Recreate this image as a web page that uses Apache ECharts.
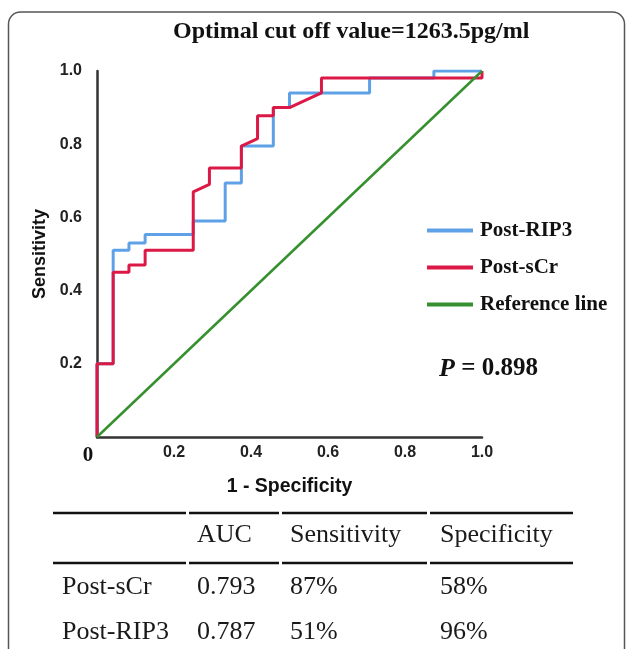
<!DOCTYPE html>
<html lang="en">
<head>
    <meta charset="UTF-8">
    <title>ROC</title>
    <style>
        html, body { margin: 0; padding: 0; background: #fff; }
        #main { width: 630px; height: 649px; }
    </style>
</head>
<body>
<div id="main"></div>
<script src="https://cdn.jsdelivr.net/npm/echarts@6/dist/echarts.min.js"></script>
<script>
    // ROC curves (1 - specificity, sensitivity)
    var rip3X = [0, 0, 0.042, 0.042, 0.083, 0.083, 0.125, 0.125, 0.25, 0.25, 0.333, 0.333, 0.375, 0.375, 0.458, 0.458, 0.5, 0.5, 0.708, 0.708, 0.875, 0.875, 1];
    var rip3Y = [0, 0.2, 0.2, 0.51, 0.51, 0.53, 0.53, 0.553, 0.553, 0.59, 0.59, 0.694, 0.694, 0.795, 0.795, 0.9, 0.9, 0.94, 0.94, 0.981, 0.981, 1, 1];
    var scrX = [0, 0, 0.042, 0.042, 0.083, 0.083, 0.125, 0.125, 0.25, 0.25, 0.292, 0.292, 0.375, 0.375, 0.417, 0.417, 0.458, 0.458, 0.5, 0.583, 0.583, 1, 1];
    var scrY = [0, 0.2, 0.2, 0.45, 0.45, 0.47, 0.47, 0.51, 0.51, 0.67, 0.69, 0.735, 0.735, 0.795, 0.815, 0.878, 0.878, 0.9, 0.9, 0.94, 0.981, 0.981, 1];
    var refX = [0, 1];
    var refY = [0, 1];

    var seriesNames = ['Post-RIP3', 'Post-sCr', 'Reference line'];
    var tableHeader = ['', 'AUC', 'Sensitivity', 'Specificity'];
    var tableRows = [
        ['Post-sCr', '0.793', '87%', '58%'],
        ['Post-RIP3', '0.787', '51%', '96%']
    ];
    var pText = '0.898';

    function pairs(xs, ys) {
        var out = [];
        for (var i = 0; i < xs.length; i++) out.push([xs[i], ys[i]]);
        return out;
    }

    var serif = '"Liberation Serif", "Times New Roman", serif';
    var sans = '"Liberation Sans", Arial, sans-serif';

    // table drawn as graphic elements
    var colX = [62, 197, 290, 440];
    var rowY = [535, 587, 632];
    var segs = [[53, 186], [189, 279], [282, 427], [430, 573]];
    var graphics = [{
        type: 'rect',
        shape: { x: 8.5, y: 12, width: 616, height: 700, r: 12 },
        style: { fill: 'none', stroke: '#555', lineWidth: 1.5 }
    }];
    [513, 563].forEach(function (y) {
        segs.forEach(function (s) {
            graphics.push({
                type: 'line',
                shape: { x1: s[0], y1: y, x2: s[1], y2: y },
                style: { stroke: '#111', lineWidth: 2.5 }
            });
        });
    });
    [tableHeader].concat(tableRows).forEach(function (row, r) {
        row.forEach(function (cell, c) {
            if (!cell) return;
            graphics.push({
                type: 'text',
                x: colX[c],
                y: rowY[r],
                style: {
                    text: cell, fill: '#1a1a1a', font: '26px ' + serif,
                    textAlign: 'left', textVerticalAlign: 'middle'
                }
            });
        });
    });
    graphics.push({
        type: 'text',
        x: 439,
        y: 369,
        style: {
            text: '{p|P} = ' + pText,
            textAlign: 'left', textVerticalAlign: 'middle',
            fill: '#111', font: 'bold 25px ' + serif,
            rich: {
                p: { fontStyle: 'italic', fontWeight: 'bold', fontSize: 26, fontFamily: serif, fill: '#111' }
            }
        }
    });

    var myChart = echarts.init(document.getElementById('main'));
    var option = {
        backgroundColor: '#fff',
        animation: false,
        title: {
            text: 'Optimal cut off value=1263.5pg/ml',
            left: 173,
            top: 20,
            padding: 0,
            textStyle: { fontFamily: serif, fontWeight: 'bold', fontSize: 24, color: '#111' }
        },
        legend: {
            orient: 'vertical',
            left: 422,
            top: 215,
            itemWidth: 46,
            itemHeight: 4,
            itemGap: 16,
            icon: 'rect',
            data: seriesNames,
            textStyle: { fontFamily: serif, fontWeight: 'bold', fontSize: 21, color: '#111', padding: [0, 0, 0, 2] }
        },
        grid: { left: 97, right: 148, top: 71, bottom: 212 },
        xAxis: {
            type: 'value',
            min: 0,
            max: 1,
            interval: 0.2,
            name: '1 - Specificity',
            nameLocation: 'middle',
            nameGap: 40,
            nameTextStyle: { fontFamily: sans, fontWeight: 'bold', fontSize: 19.5, color: '#111' },
            axisLine: { lineStyle: { color: '#333', width: 2.5 } },
            axisTick: { show: false },
            splitLine: { show: false },
            axisLabel: {
                margin: 8,
                fontFamily: sans, fontWeight: 'bold', fontSize: 16, color: '#222',
                formatter: function (v) {
                    return v === 0 ? '{z|0}' : v.toFixed(1);
                },
                rich: {
                    z: { fontFamily: serif, fontWeight: 'bold', fontSize: 21, color: '#111', padding: [0, 18, 0, 0] }
                }
            }
        },
        yAxis: {
            type: 'value',
            min: 0,
            max: 1,
            interval: 0.2,
            name: 'Sensitivity',
            nameLocation: 'middle',
            nameGap: 34,
            nameTextStyle: { fontFamily: sans, fontWeight: 'bold', fontSize: 18, color: '#111' },
            axisLine: { show: true, lineStyle: { color: '#333', width: 2.5 } },
            axisTick: { show: false },
            splitLine: { show: false },
            axisLabel: {
                margin: 15,
                fontFamily: sans, fontWeight: 'bold', fontSize: 16, color: '#222',
                formatter: function (v) {
                    return v === 0 ? '' : v.toFixed(1);
                }
            }
        },
        series: [{
            name: seriesNames[0],
            type: 'line',
            data: pairs(rip3X, rip3Y),
            showSymbol: false,
            color: '#5ea1e6',
            lineStyle: { width: 3 }
        }, {
            name: seriesNames[1],
            type: 'line',
            data: pairs(scrX, scrY),
            showSymbol: false,
            color: '#dc1846',
            lineStyle: { width: 3 }
        }, {
            name: seriesNames[2],
            type: 'line',
            data: pairs(refX, refY),
            showSymbol: false,
            color: '#36902f',
            lineStyle: { width: 2.5 }
        }],
        graphic: graphics
    };
    myChart.setOption(option);
</script>
</body>
</html>
